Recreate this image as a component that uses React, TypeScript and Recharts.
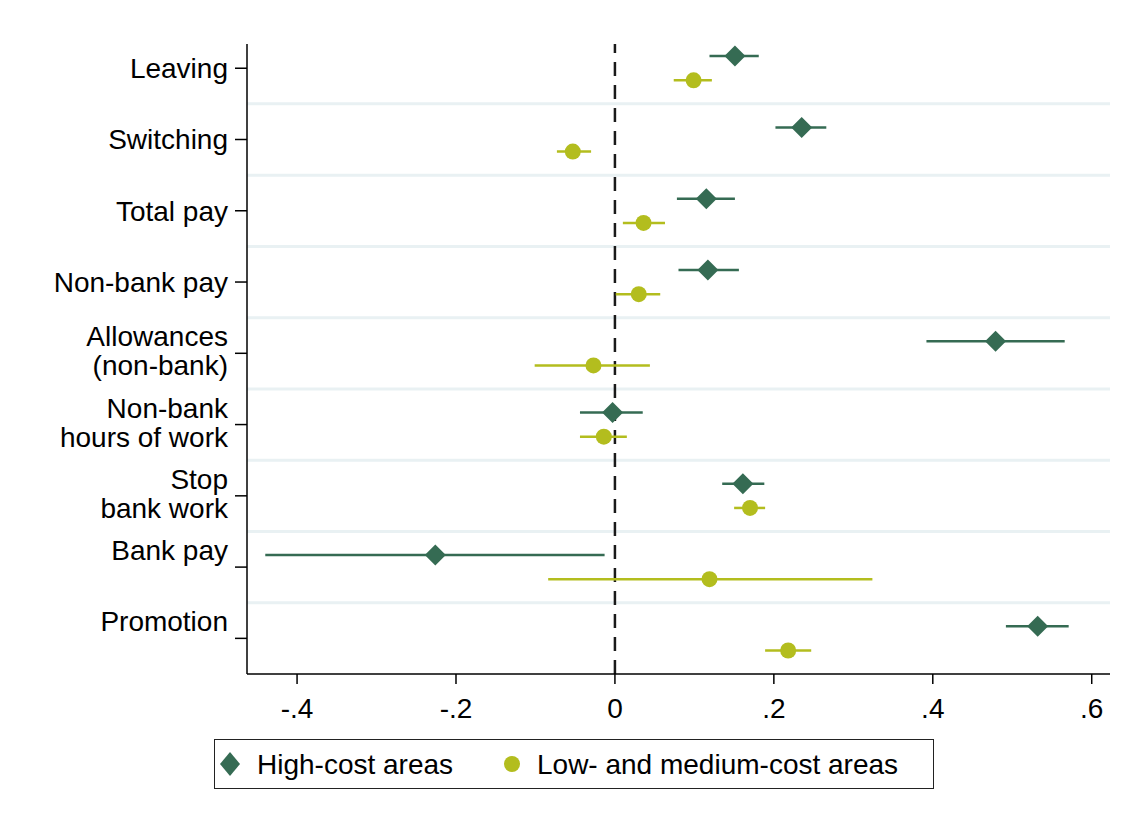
import { ScatterChart, Scatter, XAxis, YAxis, ErrorBar, ReferenceLine } from 'recharts'

const categories = [
  'Leaving',
  'Switching',
  'Total pay',
  'Non-bank pay',
  'Allowances\n(non-bank)',
  'Non-bank\nhours of work',
  'Stop\nbank work',
  'Bank pay\n',
  'Promotion\n',
]

// high-cost areas: point estimate and 95% CI
const highCoef = [0.151, 0.235, 0.115, 0.117, 0.479, -0.003, 0.161, -0.226, 0.532]
const highLo = [0.119, 0.202, 0.078, 0.080, 0.392, -0.044, 0.135, -0.440, 0.492]
const highHi = [0.181, 0.266, 0.151, 0.156, 0.566, 0.035, 0.188, -0.013, 0.571]

// low- and medium-cost areas
const lowCoef = [0.099, -0.053, 0.036, 0.030, -0.027, -0.014, 0.170, 0.119, 0.218]
const lowLo = [0.074, -0.073, 0.010, 0.001, -0.101, -0.044, 0.150, -0.084, 0.189]
const lowHi = [0.122, -0.030, 0.063, 0.057, 0.044, 0.015, 0.189, 0.324, 0.247]

const xTicks = [-0.4, -0.2, 0, 0.2, 0.4, 0.6]

const HIGH_COLOR = '#356b53'
const LOW_COLOR = '#b3bd1e'
const FONT = '"Liberation Sans", Arial, sans-serif'

const highData = categories.map((_, i) => ({
  x: highCoef[i],
  y: i + 0.33,
  err: [highCoef[i] - highLo[i], highHi[i] - highCoef[i]],
}))

const lowData = categories.map((_, i) => ({
  x: lowCoef[i],
  y: i + 0.67,
  err: [lowCoef[i] - lowLo[i], lowHi[i] - lowCoef[i]],
}))

const yTicks = categories.map((_, i) => i + 0.5)
const separators = categories.slice(1).map((_, i) => i + 1)

const fmtX = (v: number) => {
  if (v === 0) return '0'
  const s = String(Math.round(v * 10) / 10)
  return s.replace('0.', '.')
}

const Diamond = (props: any) => {
  const { cx, cy } = props
  const r = 10.5
  return (
    <polygon
      points={`${cx},${cy - r} ${cx + r},${cy} ${cx},${cy + r} ${cx - r},${cy}`}
      fill={HIGH_COLOR}
    />
  )
}

const Dot = (props: any) => {
  const { cx, cy } = props
  return <circle cx={cx} cy={cy} r={8} fill={LOW_COLOR} />
}

const YTick = (props: any) => {
  const { x, y, payload } = props
  const label = categories[Math.floor(payload.value)] || ''
  const lines = label.split('\n')
  const n = lines.length
  return (
    <text x={x} y={y} textAnchor="end" fontSize={28} fontFamily={FONT} fill="#000">
      {lines.map((line, k) => {
        const cy = y + (k - (n - 1) / 2) * 29 - (n > 1 ? 2.5 : 0)
        return (
          <tspan key={k} x={x} y={cy + 10}>
            {line}
          </tspan>
        )
      })}
    </text>
  )
}

export default function App() {
  return (
    <div style={{ position: 'absolute', left: 0, top: 0, width: 1132, height: 821, background: '#fff' }}>
      <ScatterChart
        width={1132}
        height={821}
        margin={{ top: 44, right: 22, bottom: 87, left: 0 }}
      >
        {separators.map((s) => (
          <ReferenceLine key={s} y={s} stroke="#e9f1f3" strokeWidth={3} />
        ))}
        <ReferenceLine x={0} stroke="#1a1a1a" strokeWidth={2.5} strokeDasharray="14 9" />
        <XAxis
          type="number"
          dataKey="x"
          domain={[-0.463, 0.623]}
          ticks={xTicks}
          tickFormatter={fmtX}
          allowDataOverflow
          height={60}
          tickSize={10}
          tickMargin={14}
          axisLine={{ stroke: '#000', strokeWidth: 1.5 }}
          tickLine={{ stroke: '#000', strokeWidth: 1.5 }}
          tick={{ fontSize: 28, fontFamily: FONT, fill: '#000' }}
        />
        <YAxis
          type="number"
          dataKey="y"
          domain={[0.16, 9]}
          reversed
          ticks={yTicks}
          width={247}
          tickSize={12}
          tickMargin={7}
          allowDataOverflow
          axisLine={{ stroke: '#000', strokeWidth: 1.5 }}
          tickLine={{ stroke: '#000', strokeWidth: 1.5 }}
          tick={<YTick />}
        />
        <Scatter data={highData} shape={<Diamond />} isAnimationActive={false}>
          <ErrorBar dataKey="err" direction="x" width={0} stroke={HIGH_COLOR} strokeWidth={2.5} />
        </Scatter>
        <Scatter data={lowData} shape={<Dot />} isAnimationActive={false}>
          <ErrorBar dataKey="err" direction="x" width={0} stroke={LOW_COLOR} strokeWidth={2.5} />
        </Scatter>
      </ScatterChart>

      <div
        style={{
          position: 'absolute',
          left: 214,
          top: 739,
          width: 718,
          height: 48,
          border: '1.5px solid #222',
          fontFamily: FONT,
          fontSize: 28,
          color: '#000',
        }}
      >
        <svg width={718} height={48} style={{ position: 'absolute', left: 0, top: 0 }}>
          <polygon points="15,12 25,24 15,36 5,24" fill={HIGH_COLOR} />
          <circle cx={297} cy={24} r={8} fill={LOW_COLOR} />
          <text x={42} y={34} fontSize={28} fontFamily={FONT} fill="#000">
            High-cost areas
          </text>
          <text x={322} y={34} fontSize={28} fontFamily={FONT} fill="#000">
            Low- and medium-cost areas
          </text>
        </svg>
      </div>
    </div>
  )
}
